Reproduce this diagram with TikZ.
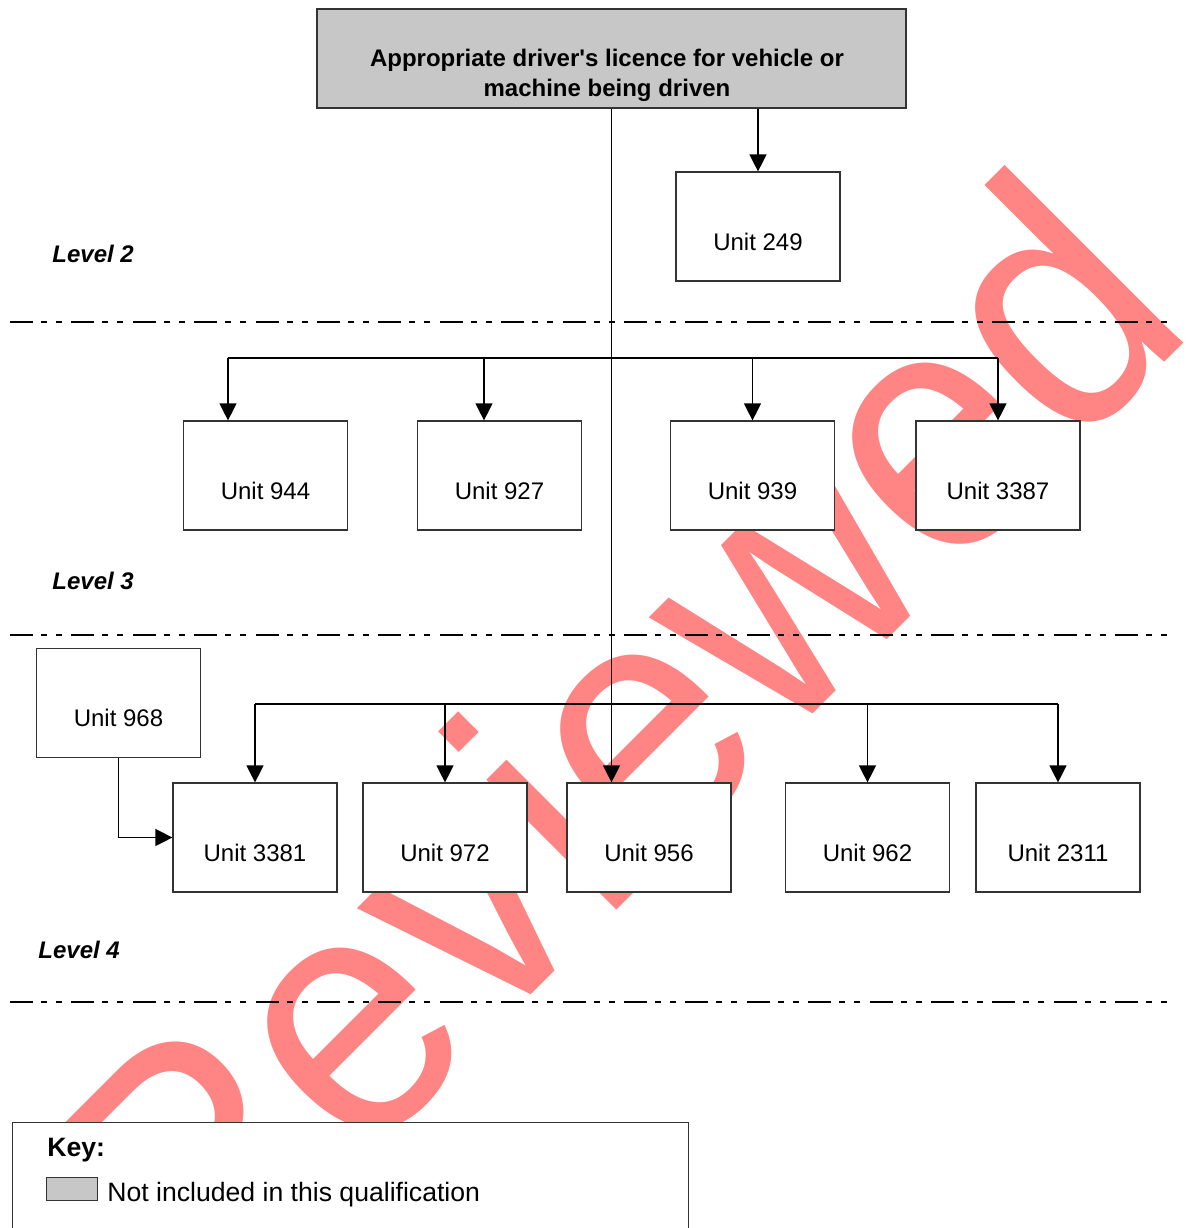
\documentclass[tikz,border=0pt]{standalone}
\usepackage{fontspec}
\setmainfont{Liberation Sans}
\usetikzlibrary{arrows.meta,calc}
\definecolor{notincluded}{gray}{0.78}
\definecolor{boxline}{gray}{0.2}
\definecolor{stampred}{rgb}{1,0.52,0.52}

\begin{document}
\begin{tikzpicture}[x=0.5pt,y=-0.5pt,
		unit/.style={draw=boxline, fill=white, line width=0.6pt, inner sep=0pt, minimum width=82pt, text height=39pt, text depth=15.5pt, font=\fontsize{12}{14}\selectfont},
		link/.style={line width=0.6pt, -{Triangle[length=8.5pt,width=8.5pt]}},
		levelline/.style={line width=0.6pt, dash pattern=on 11.5pt off 4pt on 3pt off 4.5pt on 3pt off 4.7pt},
		levelname/.style={anchor=base west, inner sep=0pt, font=\fontsize{12}{14}\selectfont\bfseries\itshape}]
			\useasboundingbox (0,0) rectangle (1191,1228);
			
			% Watermark
			\node[rotate=45, xscale=0.93, inner sep=0pt, text=stampred, font=\fontsize{174}{174}\selectfont] (stamp) at (609,742) {Reviewed};
			
			% Level separators
			\foreach \y in {322,635,1002}
				\draw[levelline] (10,\y) -- (1168,\y);
			\node[levelname] (level2) at (52,262) {Level 2};
			\node[levelname] (level3) at (52,589) {Level 3};
			\node[levelname] (level4) at (38,958) {Level 4};
			
			% Top box
			\node[draw=boxline, fill=notincluded, line width=0.6pt, minimum width=294.5pt, minimum height=49.5pt, inner sep=0pt] (licence) at (611.5,58.5) {};
			\node[align=center, inner sep=0pt, font=\fontsize{12}{15}\selectfont\bfseries] (licencetext) at (607,75) {Appropriate driver\textquotesingle s licence for vehicle or\\machine being driven};
			
			% Units
			\node[unit] (u249) at (758,226.5) {Unit 249};
			\node[unit] (u944) at (265.5,475.5) {Unit 944};
			\node[unit] (u927) at (499.5,475.5) {Unit 927};
			\node[unit] (u939) at (752.5,475.5) {Unit 939};
			\node[unit] (u3387) at (998,475.5) {Unit 3387};
			\node[unit] (u968) at (118.5,703) {Unit 968};
			\node[unit] (u3381) at (255,837.5) {Unit 3381};
			\node[unit] (u972) at (445,837.5) {Unit 972};
			\node[unit] (u956) at (649,837.5) {Unit 956};
			\node[unit] (u962) at (867.5,837.5) {Unit 962};
			\node[unit] (u2311) at (1058,837.5) {Unit 2311};
			
			% Connectors
			\draw[link] (licence.south) -- (licence.south |- u956.north);
			\draw[link] (u249.north |- licence.south) -- (u249.north);
			
			\coordinate (fork3) at (611.5,358);
			\coordinate (drop944) at ($(u944.north)+(-37.5,0)$);
			\coordinate (drop927) at ($(u927.north)+(-15.5,0)$);
			\draw[line width=0.6pt] (drop944 |- fork3) -- (u3387.north |- fork3);
			\foreach \d in {drop944,drop927,u939.north,u3387.north}
				\draw[link] (\d |- fork3) -- (\d);
			
			\coordinate (fork4) at (611.5,704);
			\draw[line width=0.6pt] (u3381.north |- fork4) -- (u2311.north |- fork4);
			\foreach \u in {u3381,u972,u962,u2311}
				\draw[link] (\u.north |- fork4) -- (\u.north);
			\draw[link] (u968.south) |- (u3381.west);
			
			% Key
			\node[draw=boxline, fill=white, line width=0.6pt, minimum width=338pt, minimum height=60pt, inner sep=0pt, anchor=north west] (keybox) at (12,1122) {};
			\node[anchor=base west, inner sep=0pt, font=\fontsize{13.3}{16}\selectfont\bfseries] (keytitle) at (47,1156) {Key:};
			\node[draw=boxline, fill=notincluded, line width=0.6pt, minimum width=25.5pt, minimum height=11.5pt, inner sep=0pt, anchor=north west] (swatch) at (46,1177) {};
			\node[anchor=base west, inner sep=0pt, font=\fontsize{13.3}{16}\selectfont] (keytext) at (107,1201) {Not included in this qualification};
		\end{tikzpicture}
\end{document}
